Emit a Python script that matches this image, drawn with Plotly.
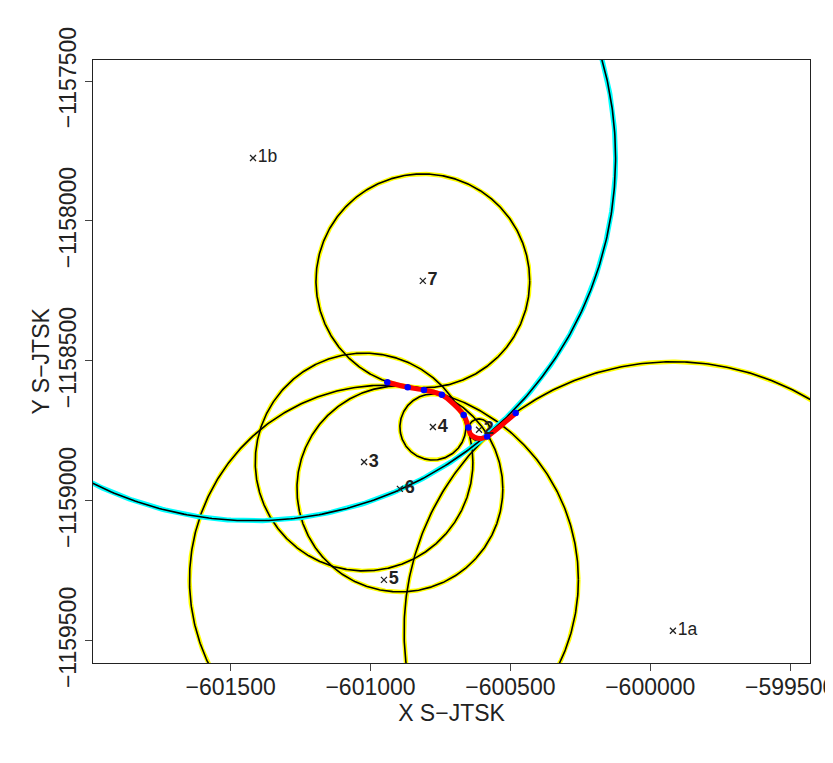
import numpy as np
import plotly.graph_objects as go

# ---- data (S-JTSK coordinates) ----
point_names = ["1a", "1b", "2", "3", "4", "5", "6", "7"]
point_x = [-599919, -601420, -600612, -601023, -600777, -600952, -600895, -600813]
point_y = [-1159464, -1157775, -1158746, -1158861, -1158736, -1159282, -1158957, -1158214]

# yellow distance circles: centre point name and radius
circle_names = ["7", "4", "2", "3", "6", "5", "1a"]
circle_r = [382, 118, 39, 389, 368, 695, 961]

# cyan circle
cyan_names = ["1b"]
cyan_r = [1296]

# red track and blue fixes
fix_x = [-600940, -600867, -600809, -600745, -600667, -600650, -600583, -600481]
fix_y = [-1158576, -1158594, -1158604, -1158621, -1158693, -1158738, -1158770, -1158686]
track_x = [-600940, -600867, -600809, -600745, -600667, -600650, -600643, -600627, -600605, -600583, -600481]
track_y = [-1158576, -1158594, -1158604, -1158621, -1158693, -1158738, -1158761, -1158773, -1158777, -1158770, -1158686]

x_ticks = [-601500, -601000, -600500, -600000, -599500]
y_ticks = [-1157500, -1158000, -1158500, -1159000, -1159500]

# ---- build ----
lookup = {n: (x, y) for n, x, y in zip(point_names, point_x, point_y)}
t = np.linspace(0, 2 * np.pi, 721)


def circles(names, radii):
    xs, ys = [], []
    for n, r in zip(names, radii):
        cx, cy = lookup[n]
        xs += list(cx + r * np.cos(t)) + [None]
        ys += list(cy + r * np.sin(t)) + [None]
    return xs, ys


def fmt(v):
    return ("\u2212" if v < 0 else "") + str(abs(v))


fig = go.Figure()
cx_, cy_ = circles(circle_names, circle_r)
fig.add_trace(go.Scatter(x=cx_, y=cy_, mode="lines", line=dict(color="#FFFF00", width=4.5), hoverinfo="skip"))
fig.add_trace(go.Scatter(x=cx_, y=cy_, mode="lines", line=dict(color="black", width=1.6), hoverinfo="skip"))
kx, ky = circles(cyan_names, cyan_r)
fig.add_trace(go.Scatter(x=kx, y=ky, mode="lines", line=dict(color="#00FFFF", width=5), hoverinfo="skip"))
fig.add_trace(go.Scatter(x=kx, y=ky, mode="lines", line=dict(color="black", width=1.6), hoverinfo="skip"))

fig.add_trace(go.Scatter(x=track_x, y=track_y, mode="lines",
                         line=dict(color="#FF0000", width=5, shape="spline", smoothing=0.8)))
fig.add_trace(go.Scatter(x=fix_x, y=fix_y, mode="markers",
                         marker=dict(color="#0000FF", size=6.5, line=dict(width=0))))

labels = [("<b>%s</b>" % n if n[0] != "1" else n) for n in point_names]
fig.add_trace(go.Scatter(
    x=point_x, y=point_y, mode="markers+text", text=labels, textposition="middle right",
    marker=dict(symbol="x-thin", size=6, line=dict(width=1.3, color="#222")),
    textfont=dict(size=[17.5 if n[0] == "1" else 18 for n in point_names], color="#222",
                  family="Liberation Sans, Arial, sans-serif"),
    cliponaxis=False))

axis_common = dict(
    showgrid=False, zeroline=False, showline=True, linecolor="#222", linewidth=1, mirror=True,
    ticks="outside", ticklen=7, tickwidth=1, tickcolor="#444", automargin=False,
    ticklabeloverflow="allow",
    tickfont=dict(size=23, color="#222"),
)
fig.update_layout(
    width=833, height=763,
    margin=dict(l=85, r=31, t=52, b=108),
    paper_bgcolor="white", plot_bgcolor="white",
    showlegend=False,
    font=dict(family="Liberation Sans, Arial, sans-serif", color="#222"),
    xaxis=dict(range=[-601992, -599429], tickvals=x_ticks, ticktext=[fmt(v) for v in x_ticks],
               ticklabelstandoff=-4,
               title=dict(text="X S\u2212JTSK", font=dict(size=23), standoff=4), **axis_common),
    yaxis=dict(range=[-1159579, -1157425], tickvals=y_ticks, ticktext=[fmt(v) for v in y_ticks],
               tickangle=-90, **axis_common),
    annotations=[dict(text="Y S\u2212JTSK", textangle=-90, xref="paper", yref="paper",
                      x=0, y=0.5, xanchor="center", yanchor="middle", xshift=-53,
                      showarrow=False, font=dict(size=23, color="#222"))],
)
fig.write_html("out.html")
